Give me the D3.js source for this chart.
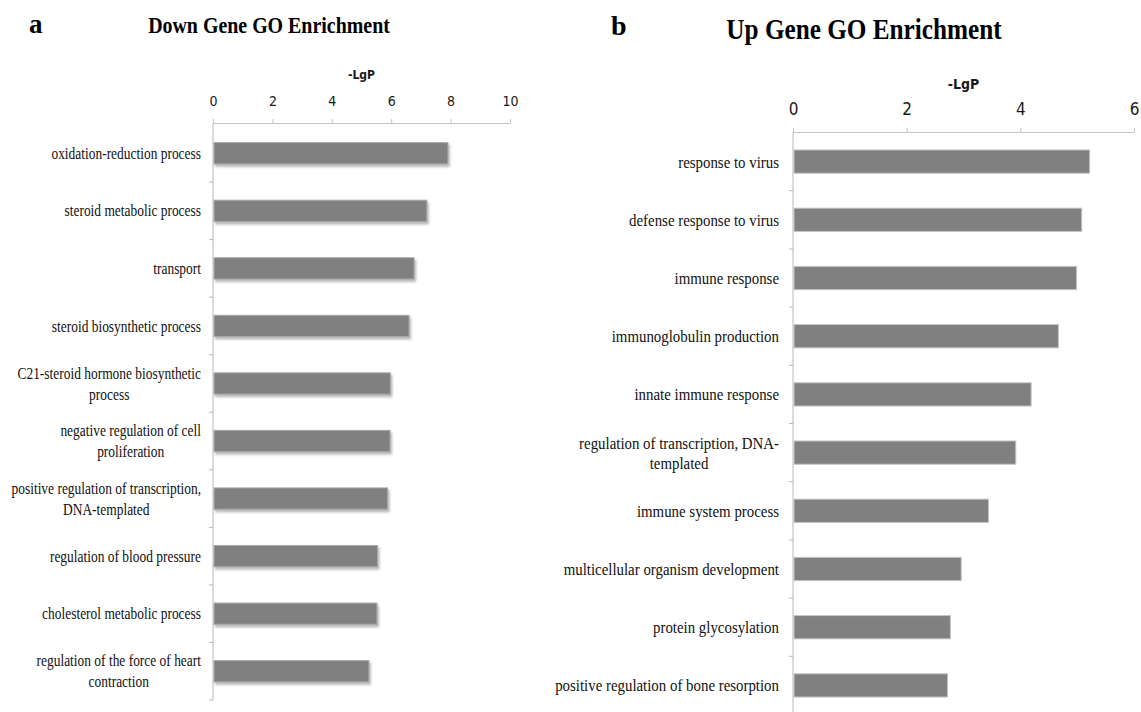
<!DOCTYPE html>
<html>
<head>
<meta charset="utf-8">
<script src="https://cdn.jsdelivr.net/npm/d3@7"></script>
<style>
  body { margin: 0; background: #fff; }
  svg { display: block; }
</style>
</head>
<body>
<div class="go-figure"></div>
<script>
// GO terms and -LgP values
let downTerms = [
  "oxidation-reduction process",
  "steroid metabolic process",
  "transport",
  "steroid biosynthetic process",
  "C21-steroid hormone biosynthetic\nprocess",
  "negative regulation of cell\nproliferation",
  "positive regulation of transcription,\nDNA-templated",
  "regulation of blood pressure",
  "cholesterol metabolic process",
  "regulation of the force of heart\ncontraction"
];
let downValues = [7.91, 7.2, 6.77, 6.6, 5.97, 5.96, 5.88, 5.54, 5.52, 5.25];
let downTicks = [0, 2, 4, 6, 8, 10];

let upTerms = [
  "response to virus",
  "defense response to virus",
  "immune response",
  "immunoglobulin production",
  "innate immune response",
  "regulation of transcription, DNA-\ntemplated",
  "immune system process",
  "multicellular organism development",
  "protein glycosylation",
  "positive regulation of bone resorption"
];
let upValues = [5.22, 5.08, 4.99, 4.67, 4.19, 3.92, 3.44, 2.96, 2.77, 2.72];
let upTicks = [0, 2, 4, 6];

let W = 1141, H = 712;

let svg = d3.select("body").select(".go-figure")
  .append("svg")
  .attr("width", W)
  .attr("height", H);

// soft shadow used under the bars of panel a
let defs = svg.append("defs");
let flt = defs.append("filter").attr("id", "barShadow")
  .attr("x", "-5%").attr("y", "-30%").attr("width", "115%").attr("height", "180%");
flt.append("feDropShadow")
  .attr("dx", 1.5).attr("dy", 2.5)
  .attr("stdDeviation", 1)
  .attr("flood-color", "#9a9a9a")
  .attr("flood-opacity", 0.7);

let serif = "'Liberation Serif', 'Times New Roman', serif";
let sans = "'Liberation Sans Narrow', 'DejaVu Sans Condensed', 'Open Sans', sans-serif";

function drawPanel(opt) {
  let g = svg.append("g");

  let x = d3.scaleLinear().domain(opt.domain).range(opt.xRange);
  let y = d3.scaleBand()
    .domain(d3.range(opt.terms.length))
    .range(opt.yRange)
    .paddingInner(opt.pad)
    .paddingOuter(opt.pad / 2);

  // panel letter and title
  g.append("text")
    .attr("x", opt.letterX).attr("y", opt.letterY)
    .attr("font-family", serif).attr("font-weight", "bold")
    .attr("font-size", opt.letterSize)
    .text(opt.letter);

  g.append("text")
    .attr("transform", "translate(" + opt.titleX + "," + opt.titleY + ") scale(" + opt.titleScale + ",1)")
    .attr("text-anchor", "middle")
    .attr("font-family", serif).attr("font-weight", "bold")
    .attr("font-size", opt.titleSize)
    .text(opt.title);

  // top value axis
  let axisY = opt.axisY;
  let xAxis = g.append("g")
    .attr("transform", "translate(0," + axisY + ")")
    .call(d3.axisTop(x).tickValues(opt.ticks).tickFormat(d3.format("d"))
      .tickSize(4).tickPadding(opt.tickPad).tickSizeOuter(0));
  xAxis.select(".domain").attr("stroke", "#c3c3c3");
  xAxis.selectAll(".tick line").attr("stroke", "#c3c3c3");
  xAxis.selectAll(".tick text")
    .attr("font-family", sans)
    .attr("font-size", opt.tickSize)
    .attr("fill", "#1a1a1a");

  g.append("text")
    .attr("x", (opt.xRange[0] + opt.xRange[1]) / 2)
    .attr("y", opt.unitY)
    .attr("text-anchor", "middle")
    .attr("font-family", sans).attr("font-weight", "bold")
    .attr("font-size", opt.unitSize)
    .attr("fill", "#1a1a1a")
    .text("-LgP");

  // category axis: vertical line with ticks between bands
  let y0 = opt.yRange[0], y1 = opt.yRange[1];
  g.append("line")
    .attr("x1", x(0)).attr("x2", x(0))
    .attr("y1", axisY).attr("y2", y1)
    .attr("stroke", "#b8b8b8");
  let bounds = d3.range(1, opt.terms.length + 1).map(i => y0 + i * y.step());
  g.selectAll(".ytick").data(bounds).enter().append("line")
    .attr("x1", x(0) - 4).attr("x2", x(0))
    .attr("y1", d => d).attr("y2", d => d)
    .attr("stroke", "#b8b8b8");

  // bars
  g.selectAll(".bar").data(opt.values).enter().append("rect")
    .attr("x", x(0) + 1)
    .attr("y", (d, i) => y(i))
    .attr("width", d => x(d) - x(0) - 1)
    .attr("height", y.bandwidth())
    .attr("fill", "#808080")
    .attr("stroke", opt.barStroke)
    .attr("stroke-width", 1)
    .attr("filter", opt.shadow ? "url(#barShadow)" : null);

  // category labels, multi-line ones centred on their widest line
  let lab = g.selectAll(".lab").data(opt.terms).enter().append("g")
    .attr("transform", (d, i) => "translate(" + (x(0) - opt.labelGap) + "," +
      (y(i) + y.bandwidth() / 2) + ") scale(" + opt.labelScale + ",1)");
  lab.each(function(d) {
    let lines = d.split("\n");
    let node = d3.select(this);
    let texts = lines.map((l, k) => node.append("text")
      .attr("y", (k - (lines.length - 1) / 2) * opt.lineGap)
      .attr("dy", "0.35em")
      .attr("text-anchor", "middle")
      .attr("font-family", serif)
      .attr("font-size", opt.labelSize)
      .attr("fill", "#111")
      .text(l));
    let maxW = d3.max(texts, t => t.node().getComputedTextLength());
    texts.forEach(t => t.attr("x", -maxW / 2));
  });
}

drawPanel({
  letter: "a", letterX: 29, letterY: 33, letterSize: 27,
  title: "Down Gene GO Enrichment", titleX: 269, titleY: 33, titleSize: 24, titleScale: 0.83,
  terms: downTerms, values: downValues, ticks: downTicks,
  domain: [0, 10], xRange: [213, 510], yRange: [124.5, 700], pad: 0.63,
  axisY: 123, tickPad: 13, tickSize: 14, unitY: 79, unitSize: 12,
  labelGap: 12, labelScale: 0.84, labelSize: 16, lineGap: 21,
  barStroke: "#a9a9a9", shadow: true
});

drawPanel({
  letter: "b", letterX: 611, letterY: 35, letterSize: 28,
  title: "Up Gene GO Enrichment", titleX: 864, titleY: 39, titleSize: 29, titleScale: 0.87,
  terms: upTerms, values: upValues, ticks: upTicks,
  domain: [0, 6], xRange: [793, 1134], yRange: [132.5, 714.5], pad: 0.6,
  axisY: 132, tickPad: 13, tickSize: 17, unitY: 89, unitSize: 14,
  labelGap: 14, labelScale: 0.875, labelSize: 17, lineGap: 20,
  barStroke: "#c4c4c4", shadow: false
});
</script>
</body>
</html>
